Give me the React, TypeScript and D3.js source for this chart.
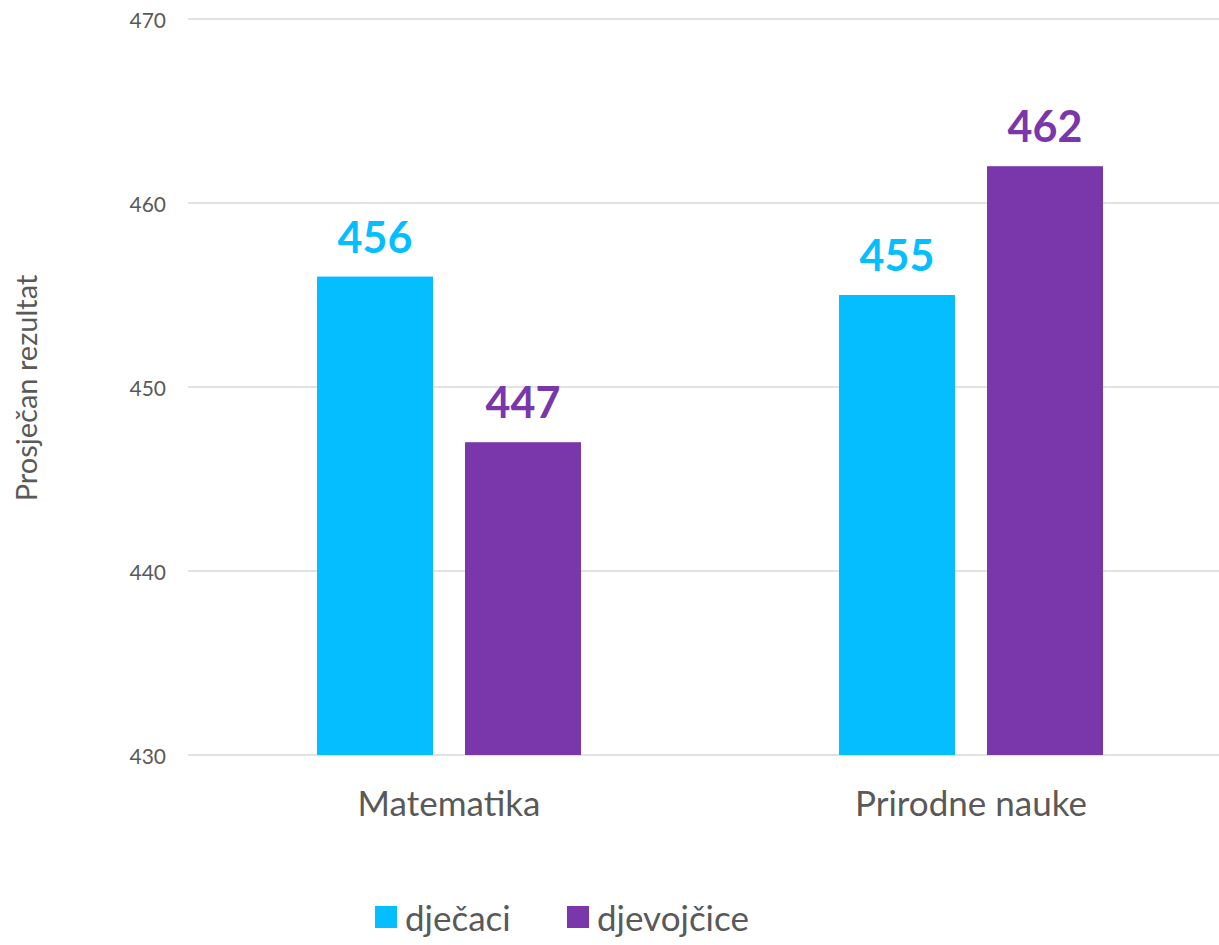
import { useEffect, useRef } from 'react'
import * as d3 from 'd3'

const CATEGORIES = ['Matematika', 'Prirodne nauke']
const SERIES = ['dječaci', 'djevojčice']
const BOYS = [456, 455]
const GIRLS = [447, 462]
const Y_TICKS = [430, 440, 450, 460, 470]

const COLORS = ['#05BEFF', '#7A37AB']
const W = 1219
const H = 945
const M = { top: 19, right: -13, bottom: 190, left: 188 }
const FONT = 'Lato, "Open Sans", sans-serif'

export default function App() {
  const svgRef = useRef<SVGSVGElement>(null)

  useEffect(() => {
    if (!svgRef.current) return
    const svg = d3.select(svgRef.current)
    svg.selectAll('*').remove()

    const x = d3.scaleBand().domain(CATEGORIES).range([M.left, W - M.right]).paddingInner(0).paddingOuter(0)
    const y = d3.scaleLinear().domain([430, 470]).range([H - M.bottom, M.top])
    const x1 = d3.scaleBand().domain(SERIES).range([129, x.bandwidth() - 129]).paddingInner(32 / 148)

    const g = svg.append('g')

    // gridlines
    g.selectAll('line.grid')
      .data(Y_TICKS)
      .join('line')
      .attr('x1', M.left).attr('x2', W - M.right)
      .attr('y1', d => y(d)).attr('y2', d => y(d))
      .attr('stroke', '#d9d9d9').attr('stroke-width', 1.5)

    g.selectAll('text.ytick')
      .data(Y_TICKS)
      .join('text')
      .attr('x', 166).attr('y', d => y(d))
      .attr('text-anchor', 'end').attr('dominant-baseline', 'central')
      .style('font-family', FONT).style('font-size', '21px').style('fill', '#595959')
      .text(d => d)

    const rows = CATEGORIES.map((c, i) => ({ c, vals: [BOYS[i], GIRLS[i]] }))

    rows.forEach(r => {
      const gx = x(r.c)!
      r.vals.forEach((v, j) => {
        const bx = gx + x1(SERIES[j])!
        g.append('rect')
          .attr('x', bx).attr('y', y(v))
          .attr('width', x1.bandwidth()).attr('height', y(430) - y(v))
          .attr('fill', COLORS[j])
        g.append('text')
          .attr('x', bx + x1.bandwidth() / 2).attr('y', y(v) - 24)
          .attr('text-anchor', 'middle')
          .style('font-family', FONT).style('font-size', '43px').style('font-weight', 'bold')
          .style('fill', COLORS[j])
          .text(v)
      })
      g.append('text')
        .attr('x', gx + x.bandwidth() / 2).attr('y', 816)
        .attr('text-anchor', 'middle')
        .style('font-family', FONT).style('font-size', '35px').style('fill', '#595959')
        .text(r.c)
    })

    // axis title
    g.append('text')
      .attr('transform', `translate(37,388) rotate(-90)`)
      .attr('text-anchor', 'middle')
      .style('font-family', FONT).style('font-size', '29px').style('fill', '#595959')
      .text('Prosječan rezultat')

    // legend
    const legX = [375, 567]
    SERIES.forEach((s, i) => {
      const lg = g.append('g').attr('transform', `translate(${legX[i]},906)`)
      lg.append('rect').attr('width', 22).attr('height', 22).attr('fill', COLORS[i])
      lg.append('text').attr('x', 30).attr('y', 11).attr('dominant-baseline', 'central')
        .style('font-family', FONT).style('font-size', '35px').style('fill', '#595959')
        .text(s)
    })
  }, [])

  return (
    <div style={{ position: 'absolute', left: 0, top: 0, width: W, height: H, background: '#fff', overflow: 'hidden' }}>
      <svg ref={svgRef} width={W} height={H} />
    </div>
  )
}
